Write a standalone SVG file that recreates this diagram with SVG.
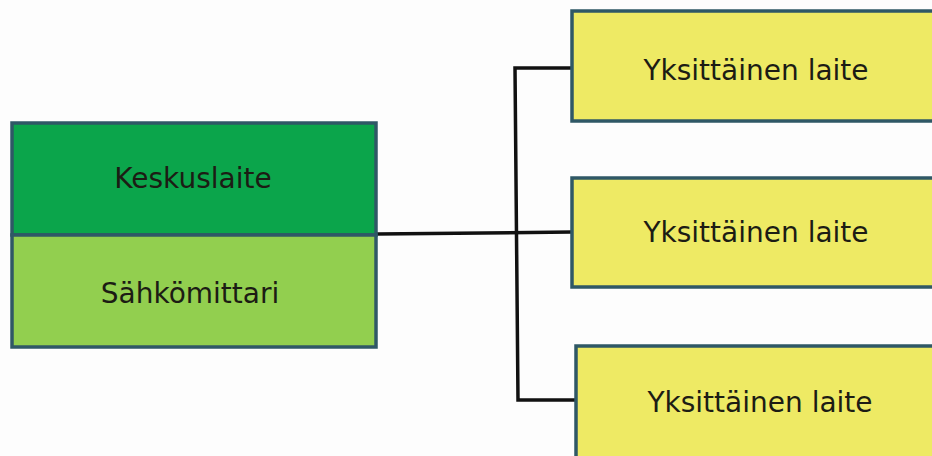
<svg xmlns="http://www.w3.org/2000/svg" width="932" height="456" viewBox="0 0 932 456">
<style>
.bx{stroke:#2f5866;stroke-width:3.5}
.t{font-family:"DejaVu Sans",sans-serif;font-size:28px;fill:#1c1c14;text-anchor:middle}
.c{fill:none;stroke:#111;stroke-width:3.5}
</style>
<rect width="932" height="456" fill="#fdfdfd"/>
<g id="connectors">
<path class="c" d="M377 234 L572 232"/>
<path class="c" d="M572 68 L515 68 L518 400 L575 400"/>
</g>
<g id="keskuslaite">
<rect class="bx" x="12" y="123" width="364" height="112" fill="#0ba54b"/>
<text class="t" x="193" y="188">Keskuslaite</text>
</g>
<g id="sahkomittari">
<rect class="bx" x="12" y="235" width="364" height="112" fill="#92cf4f"/>
<text class="t" x="190" y="303">Sähkömittari</text>
</g>
<g id="laite1">
<rect class="bx" x="572" y="11" width="380" height="110" fill="#eeea64"/>
<text class="t" x="756" y="80">Yksittäinen laite</text>
</g>
<g id="laite2">
<rect class="bx" x="572" y="178" width="380" height="109" fill="#eeea64"/>
<text class="t" x="756" y="242">Yksittäinen laite</text>
</g>
<g id="laite3">
<rect class="bx" x="576" y="346" width="380" height="130" fill="#eeea64"/>
<text class="t" x="760" y="412">Yksittäinen laite</text>
</g>
</svg>
